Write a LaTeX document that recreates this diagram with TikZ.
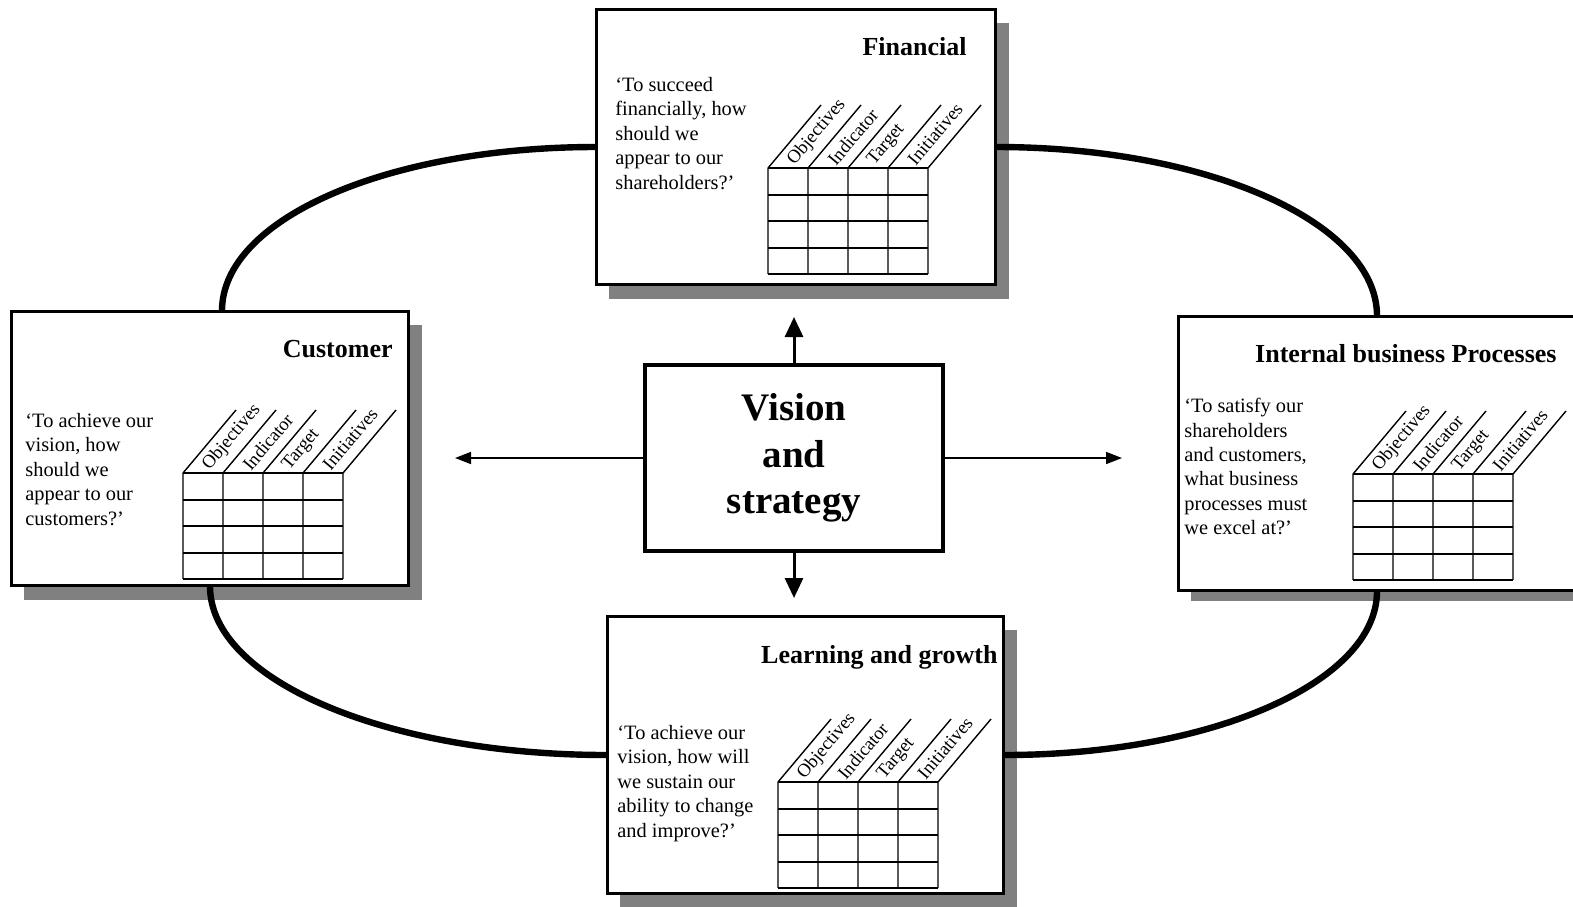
\documentclass[tikz,border=0pt]{standalone}
\usepackage{fontspec}
\setmainfont{Liberation Serif}
\usetikzlibrary{arrows.meta,calc}
\newcommand\bsctab[3]{%
  \begin{scope}[shift={(#1,#2)}]
    \foreach \i in {0,...,4} \draw[tabline] (40*\i,0) -- (40*\i,106);
    \foreach \j in {0,...,4} \draw[tabrow] (0,26.5*\j) -- (160,26.5*\j);
    \foreach \i in {0,...,4} \draw[slantline] (40*\i,0) -- ++(53,-63);
    \foreach \i/\t in {0/Objectives,1/Indicator,2/Target,3/Initiatives}
      \node[collabel] (#3-l\i) at (40*\i+23,-5) {\t};
  \end{scope}}
\begin{document}
\begin{tikzpicture}[x=0.5pt,y=-0.5pt,
  panel/.style={draw=black,line width=1.2pt,fill=white,rectangle,inner sep=0pt},
  shadowbox/.style={fill=black!50,draw=none},
  link/.style={line width=3.2pt},
  title/.style={font=\fontsize{13}{15}\selectfont\bfseries,anchor=base east,inner sep=0pt},
  body/.style={font=\fontsize{10.2}{12.2}\selectfont,align=left,anchor=north west,inner sep=0pt},
  collabel/.style={font=\fontsize{9.3}{10}\selectfont,rotate=50,anchor=west,inner sep=0pt},
  tabline/.style={line width=1pt,draw=black!65},
  tabrow/.style={line width=1pt,draw=black},
  slantline/.style={line width=0.7pt,draw=black},
  visbox/.style={draw=black,line width=1.8pt,fill=white,inner sep=0pt,
    minimum width=149pt,minimum height=93pt,align=center,
    font=\fontsize{19.5}{23.3}\selectfont\bfseries},
  varrow/.style={line width=1.5pt,-{Triangle[length=10pt,width=9pt]}},
  harrow/.style={line width=0.8pt,-{Triangle[length=8pt,width=6pt]}},
]
\useasboundingbox (0,0) rectangle (1573,906);

% panels
\node[panel,minimum width=199pt,minimum height=137pt] (fin) at (796,147) {};
\node[panel,minimum width=198pt,minimum height=136.5pt] (cust) at (210,448.5) {};
\node[panel,minimum width=198pt,minimum height=136.5pt] (int) at (1377,453.5) {};
\node[panel,minimum width=197.5pt,minimum height=138pt] (learn) at (805.5,755) {};

% shadows
\fill[shadowbox] ($(fin.north east)+(0,14)$) rectangle ($(fin.south east)+(13,14)$);
\fill[shadowbox] ($(fin.south west)+(13,0)$) rectangle ($(fin.south east)+(13,14)$);
\fill[shadowbox] ($(cust.north east)+(0,14)$) rectangle ($(cust.south east)+(13,14)$);
\fill[shadowbox] ($(cust.south west)+(13,0)$) rectangle ($(cust.south east)+(13,14)$);
\fill[shadowbox] ($(int.south west)+(13,0)$) rectangle ($(int.south east)+(13,10)$);
\fill[shadowbox] ($(learn.north east)+(0,14)$) rectangle ($(learn.south east)+(13,14)$);
\fill[shadowbox] ($(learn.south west)+(13,0)$) rectangle ($(learn.south east)+(13,14)$);
\draw[line width=1.2pt] (fin.north west) rectangle (fin.south east);
\draw[line width=1.2pt] (cust.north west) rectangle (cust.south east);
\draw[line width=1.2pt] (int.north west) rectangle (int.south east);
\draw[line width=1.2pt] (learn.north west) rectangle (learn.south east);

% titles
\node[title] (fint) at (967,55) {Financial};
\node[title] (custt) at (393,357) {Customer};
\node[title] (intt) at (1557,362) {Internal business Processes};
\node[title] (learnt) at (998,663) {Learning and growth};

% body texts
\node[body] (finb) at (615,77) {‘To succeed\\financially, how\\should we\\appear to our\\shareholders?’};
\node[body] (custb) at (25,413) {‘To achieve our\\vision, how\\should we\\appear to our\\customers?’};
\node[body] (intb) at (1184,398) {‘To satisfy our\\shareholders\\and customers,\\what business\\processes must\\we excel at?’};
\node[body] (learnb) at (617,725) {‘To achieve our\\vision, how will\\we sustain our\\ability to change\\and improve?’};

% tables
\bsctab{768}{168}{ft}
\bsctab{183}{473}{ct}
\bsctab{1353}{474}{it}
\bsctab{778}{782}{lt}

% vision
\node[visbox] (vis) at (794,458) {Vision\\and\\strategy};
\coordinate (upT) at (794,317);
\coordinate (dnT) at (794,598);
\coordinate (lfT) at (455,458);
\coordinate (rtT) at (1122,458);
\draw[varrow] (vis.north) -- (upT);
\draw[varrow] (vis.south) -- (dnT);
\draw[harrow] (vis.west) -- (lfT);
\draw[harrow] (vis.east) -- (rtT);

% cycle links
\draw[link] (fin.west) .. controls +(-208,0) and +(0,-92) .. ($(cust.north)+(12,0)$);
\draw[link] (fin.east) .. controls +(212,0) and +(0,-93) .. (int.north);
\draw[link] (cust.south) .. controls +(0,94) and +(-220,0) .. (learn.west);
\draw[link] (learn.east) .. controls +(207,0) and +(0,91) .. (int.south);
\end{tikzpicture}
\end{document}
